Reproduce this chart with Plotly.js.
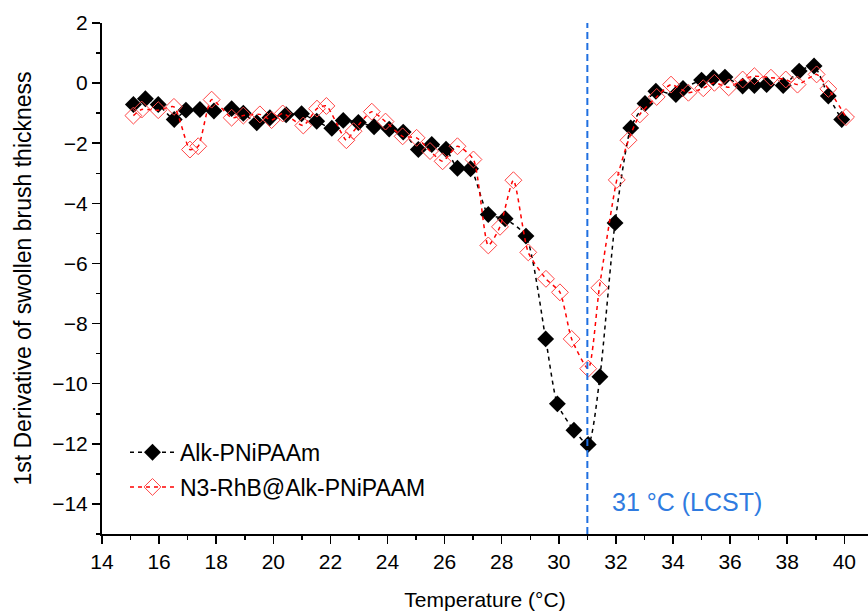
<!DOCTYPE html>
<html>
<head>
<meta charset="utf-8">
<script src="https://cdn.plot.ly/plotly-3.0.1.min.js"></script>
<style>html,body{margin:0;padding:0;background:#fff;}#chart{width:868px;height:615px;}</style>
</head>
<body>
<div id="chart"></div>
<script>
const seriesNames = ["Alk-PNiPAAm", "N3-RhB@Alk-PNiPAAM"];
const tempAlk = [15.10,15.52,15.97,16.53,16.94,17.43,17.92,18.54,18.95,19.42,19.88,20.45,20.99,21.52,22.05,22.45,22.98,23.53,24.06,24.55,25.08,25.55,26.05,26.45,26.91,27.53,28.12,28.85,29.54,29.95,30.53,31.03,31.44,31.97,32.52,33.02,33.40,34.10,34.35,35.00,35.41,35.82,36.44,36.85,37.28,37.86,38.42,38.94,39.44,39.91];
const derivAlk = [-0.71,-0.52,-0.71,-1.21,-0.90,-0.88,-0.93,-0.85,-1.00,-1.32,-1.15,-1.05,-1.02,-1.27,-1.50,-1.24,-1.31,-1.45,-1.53,-1.63,-2.21,-2.04,-2.20,-2.83,-2.85,-4.37,-4.51,-5.09,-8.51,-10.67,-11.55,-12.02,-9.77,-4.65,-1.49,-0.68,-0.27,-0.38,-0.18,0.10,0.18,0.20,-0.10,-0.08,-0.05,-0.08,0.40,0.57,-0.43,-1.21];
const tempRhB = [15.10,15.39,15.97,16.52,17.08,17.37,17.84,18.54,18.95,19.53,19.94,20.33,21.05,21.53,21.86,22.56,22.81,23.45,23.93,24.53,25.02,25.49,25.93,26.45,27.01,27.53,27.94,28.41,28.93,29.55,30.04,30.45,31.03,31.42,32.03,32.44,32.84,33.43,33.93,34.54,35.06,35.45,35.95,36.44,36.85,37.43,37.95,38.36,39.03,39.44,40.06];
const derivRhB = [-1.08,-0.88,-0.90,-0.79,-2.21,-2.10,-0.55,-1.15,-1.08,-1.04,-1.23,-1.01,-1.41,-0.85,-0.76,-1.90,-1.60,-0.95,-1.28,-1.77,-1.82,-2.26,-2.60,-2.10,-2.54,-5.40,-4.78,-3.23,-5.63,-6.51,-6.96,-8.51,-9.50,-6.81,-3.22,-1.90,-1.04,-0.46,-0.05,-0.32,-0.17,0.01,-0.14,0.12,0.23,0.18,0.12,-0.05,0.29,-0.19,-1.13];
const lcstTemp = 31;
const lcstLabel = "31 °C (LCST)";
const xTitle = "Temperature (°C)";
const yTitle = "1st Derivative of swollen brush thickness";

const FONT = "Liberation Sans, Arial, sans-serif";

const traces = [
  {
    x: tempAlk, y: derivAlk, name: seriesNames[0], type: "scatter", mode: "lines+markers",
    line: {color: "#000000", width: 1.5, dash: "4px,4px", shape: "spline", smoothing: 0.6},
    marker: {symbol: "diamond", size: 13, color: "#000000", line: {width: 0}},
    legend: "legend"
  },
  {
    x: tempRhB, y: derivRhB, name: seriesNames[1], type: "scatter", mode: "lines+markers",
    line: {color: "#ff0000", width: 1.5, dash: "4px,4px", shape: "spline", smoothing: 0.6},
    marker: {symbol: "diamond-open", size: 13, color: "#ff4545", line: {width: 1}},
    legend: "legend2"
  }
];

const layout = {
  width: 868, height: 615,
  margin: {l: 102, r: 0, t: 23, b: 81},
  paper_bgcolor: "#ffffff", plot_bgcolor: "#ffffff",
  font: {family: FONT, size: 21, color: "#000000"},
  showlegend: true,
  legend: {x: 0.03, y: 0.16, xanchor: "left", yanchor: "middle", bgcolor: "rgba(0,0,0,0)",
           font: {family: FONT, size: 23, color: "#000"}, itemwidth: 45},
  legend2: {x: 0.03, y: 0.092, xanchor: "left", yanchor: "middle", bgcolor: "rgba(0,0,0,0)",
           font: {family: FONT, size: 23, color: "#000"}, itemwidth: 45},
  xaxis: {
    range: [14, 40.83], dtick: 2, tick0: 14,
    showgrid: false, zeroline: false,
    showline: true, linecolor: "#000", linewidth: 2, mirror: false,
    ticks: "outside", ticklen: 8, tickwidth: 1.5, tickcolor: "#000",
    tickfont: {family: FONT, size: 21, color: "#000"},
    minor: {dtick: 1, ticks: "outside", ticklen: 4, tickwidth: 1.5, tickcolor: "#000", showgrid: false},
    title: {text: xTitle, font: {family: FONT, size: 21, color: "#000"}, standoff: 20},
    automargin: false
  },
  yaxis: {
    range: [-15, 2], dtick: 2, tick0: 0,
    showgrid: false, zeroline: false,
    showline: true, linecolor: "#000", linewidth: 2, mirror: false,
    ticks: "outside", ticklen: 8, tickwidth: 1.5, tickcolor: "#000",
    tickfont: {family: FONT, size: 21, color: "#000"},
    minor: {dtick: 1, ticks: "outside", ticklen: 4, tickwidth: 1.5, tickcolor: "#000", showgrid: false},
    title: {text: yTitle, font: {family: FONT, size: 23, color: "#000"}, standoff: 14},
    automargin: false
  },
  shapes: [{
    type: "line", xref: "x", yref: "paper", x0: lcstTemp, x1: lcstTemp, y0: 0, y1: 1,
    line: {color: "#1f6fe0", width: 2, dash: "7px,4px"}
  }],
  annotations: [{
    x: lcstTemp + 0.78, y: -13.95, xref: "x", yref: "y", xanchor: "left", yanchor: "middle",
    text: lcstLabel, showarrow: false,
    font: {family: FONT, size: 25, color: "#2f7be0"}
  }]
};

Plotly.newPlot("chart", traces, layout, {displayModeBar: false, staticPlot: true});
</script>
</body>
</html>
